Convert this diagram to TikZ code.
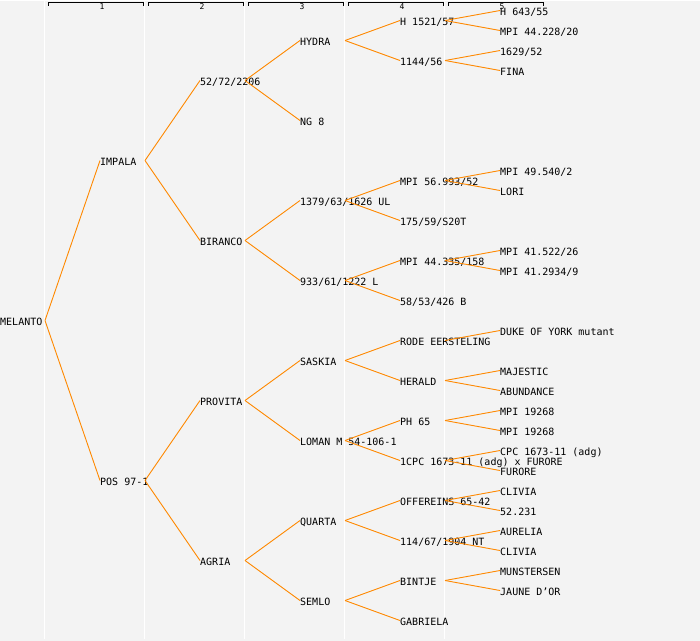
\documentclass[tikz,border=0pt]{standalone}
\usepackage{fontspec}
\usepackage{tikz}
\usepackage{xcolor}
\newfontfamily\pedigreefont{DejaVu Sans Mono}
\definecolor{link-orange}{RGB}{255,136,0}
\definecolor{sheet-gray}{RGB}{243,243,243}
\tikzset{
    pedigree-name/.style = {anchor=west, inner sep=0pt, text height=9.5pt, text depth=0.5pt, font=\pedigreefont\fontsize{10}{12}\selectfont},
    pedigree-link/.style = {draw=link-orange, line width=0.9pt},
    column-rule/.style = {draw=white, line width=1pt},
    ruler-bracket/.style = {draw=black, line width=1pt},
    ruler-label/.style = {inner sep=0pt, font=\pedigreefont\fontsize{8}{9}\selectfont},
}

\begin{document}
\begin{tikzpicture}[x=1pt, y=-1pt]
\fill[sheet-gray] (0,0) rectangle (700,640);
\foreach \k in {0,...,4}
    \draw[column-rule] (44.5+100*\k,0) -- (44.5+100*\k,638);
\foreach \k in {1,...,5} {
    \draw[ruler-bracket] (100*\k-52,5) |- (100*\k+43,1.5) -- (100*\k+43,5);
    \node[ruler-label] (col-\k) at (100*\k+2,6) {\k};
}

\node[pedigree-name] (melanto) at (0,320) {MELANTO};

\node[pedigree-name] (impala) at (100,160) {IMPALA};
\node[pedigree-name] (pos97) at (100,480) {POS 97-1};

\node[pedigree-name] (p5272) at (200,80) {52/72/2206};
\node[pedigree-name] (biranco) at (200,240) {BIRANCO};
\node[pedigree-name] (provita) at (200,400) {PROVITA};
\node[pedigree-name] (agria) at (200,560) {AGRIA};

\node[pedigree-name] (hydra) at (300,40) {HYDRA};
\node[pedigree-name] (ng8) at (300,120) {NG 8};
\node[pedigree-name] (p1379) at (300,200) {1379/63/1626 UL};
\node[pedigree-name] (p933) at (300,280) {933/61/1222 L};
\node[pedigree-name] (saskia) at (300,360) {SASKIA};
\node[pedigree-name] (loman) at (300,440) {LOMAN M 54-106-1};
\node[pedigree-name] (quarta) at (300,520) {QUARTA};
\node[pedigree-name] (semlo) at (300,600) {SEMLO};

\node[pedigree-name] (h1521) at (400,20) {H 1521/57};
\node[pedigree-name] (p1144) at (400,60) {1144/56};
\node[pedigree-name] (mpi56993) at (400,180) {MPI 56.993/52};
\node[pedigree-name] (p175) at (400,220) {175/59/S20T};
\node[pedigree-name] (mpi44335) at (400,260) {MPI 44.335/158};
\node[pedigree-name] (p58) at (400,300) {58/53/426 B};
\node[pedigree-name] (rode) at (400,340) {RODE EERSTELING};
\node[pedigree-name] (herald) at (400,380) {HERALD};
\node[pedigree-name] (ph65) at (400,420) {PH 65};
\node[pedigree-name] (cpcxfurore) at (400,460) {1CPC 1673-11 (adg) x FURORE};
\node[pedigree-name] (offereins) at (400,500) {OFFEREINS 65-42};
\node[pedigree-name] (p114) at (400,540) {114/67/1904 NT};
\node[pedigree-name] (bintje) at (400,580) {BINTJE};
\node[pedigree-name] (gabriela) at (400,620) {GABRIELA};

\node[pedigree-name] (h643) at (500,10) {H 643/55};
\node[pedigree-name] (mpi44228) at (500,30) {MPI 44.228/20};
\node[pedigree-name] (p1629) at (500,50) {1629/52};
\node[pedigree-name] (fina) at (500,70) {FINA};
\node[pedigree-name] (mpi49540) at (500,170) {MPI 49.540/2};
\node[pedigree-name] (lori) at (500,190) {LORI};
\node[pedigree-name] (mpi41522) at (500,250) {MPI 41.522/26};
\node[pedigree-name] (mpi412934) at (500,270) {MPI 41.2934/9};
\node[pedigree-name] (duke) at (500,330) {DUKE OF YORK mutant};
\node[pedigree-name] (majestic) at (500,370) {MAJESTIC};
\node[pedigree-name] (abundance) at (500,390) {ABUNDANCE};
\node[pedigree-name] (mpi19268a) at (500,410) {MPI 19268};
\node[pedigree-name] (mpi19268b) at (500,430) {MPI 19268};
\node[pedigree-name] (cpc1673) at (500,450) {CPC 1673-11 (adg)};
\node[pedigree-name] (furore) at (500,470) {FURORE};
\node[pedigree-name] (clivia-a) at (500,490) {CLIVIA};
\node[pedigree-name] (p52231) at (500,510) {52.231};
\node[pedigree-name] (aurelia) at (500,530) {AURELIA};
\node[pedigree-name] (clivia-b) at (500,550) {CLIVIA};
\node[pedigree-name] (munstersen) at (500,570) {MUNSTERSEN};
\node[pedigree-name] (jaune) at (500,590) {JAUNE D’OR};

\foreach \parent/\child in {melanto/impala, melanto/pos97,
    impala/p5272, impala/biranco, pos97/provita, pos97/agria,
    p5272/hydra, p5272/ng8, biranco/p1379, biranco/p933,
    provita/saskia, provita/loman, agria/quarta, agria/semlo,
    hydra/h1521, hydra/p1144, p1379/mpi56993, p1379/p175,
    p933/mpi44335, p933/p58, saskia/rode, saskia/herald,
    loman/ph65, loman/cpcxfurore, quarta/offereins, quarta/p114,
    semlo/bintje, semlo/gabriela,
    h1521/h643, h1521/mpi44228, p1144/p1629, p1144/fina,
    mpi56993/mpi49540, mpi56993/lori, mpi44335/mpi41522, mpi44335/mpi412934,
    rode/duke, herald/majestic, herald/abundance,
    ph65/mpi19268a, ph65/mpi19268b, cpcxfurore/cpc1673, cpcxfurore/furore,
    offereins/clivia-a, offereins/p52231, p114/aurelia, p114/clivia-b,
    bintje/munstersen, bintje/jaune}
    \draw[pedigree-link] ([xshift=45pt]\parent.west) -- (\child.west);
\end{tikzpicture}
\end{document}
